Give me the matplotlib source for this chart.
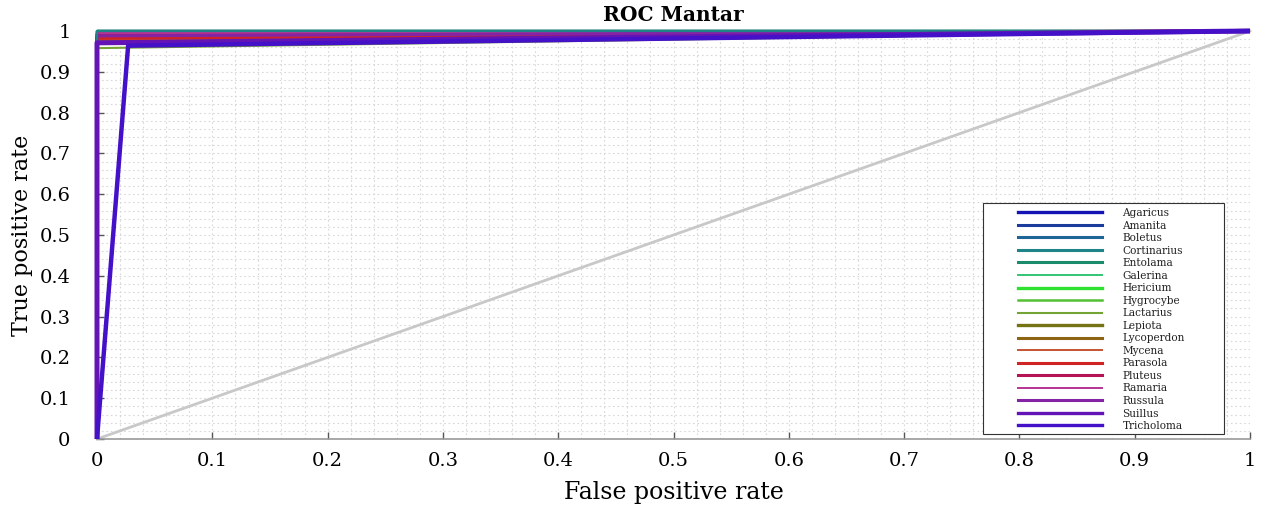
import matplotlib
matplotlib.use("Agg")
import matplotlib.pyplot as plt
from matplotlib.ticker import MultipleLocator
from matplotlib.patches import Rectangle

# Per-class operating point (false positive rate, true positive rate)
classes = ["Agaricus", "Amanita", "Boletus", "Cortinarius", "Entolama", "Galerina",
           "Hericium", "Hygrocybe", "Lactarius", "Lepiota", "Lycoperdon", "Mycena",
           "Parasola", "Pluteus", "Ramaria", "Russula", "Suillus", "Tricholoma"]
fpr = [0.0, 0.0, 0.0, 0.0, 0.0, 0.0, 0.0, 0.0, 0.0, 0.0, 0.0, 0.0,
       0.0, 0.0, 0.0, 0.0, 0.0, 0.027]
tpr = [1.0, 1.0, 1.0, 1.0, 1.0, 1.0, 1.0, 0.975, 0.958, 0.984, 0.98, 0.979,
       0.982, 0.993, 0.995, 0.988, 0.971, 0.964]
colors = ["#1414B4", "#1A3C9C", "#1E6494", "#1F8488", "#1A8C6C", "#34C474",
          "#30E030", "#54C034", "#74A434", "#747414", "#8C6414", "#C45434",
          "#D02424", "#B41454", "#B43494", "#8424A4", "#6414B4", "#4410C8"]
widths = [2.4, 2.2, 2.2, 2.2, 2.2, 1.4, 2.4, 1.8, 1.5, 2.4, 2.2, 1.4,
          2.2, 2.2, 1.4, 2.2, 3.6, 3.2]
layers = [3.0, 3.0, 3.0, 3.5, 3.0, 3.0, 3.0, 3.0, 3.0, 3.0, 3.0, 3.0,
          3.0, 3.0, 3.0, 3.0, 3.6, 3.7]

W, H = 1269, 507
fig = plt.figure(figsize=(W / 100, H / 100), dpi=100)
ax = fig.add_axes([97 / W, 1 - 439 / H, (1250 - 97) / W, (439 - 31) / H])

# chance diagonal
ax.plot([0, 1], [0, 1], color="#C8C8C8", lw=2.0, zorder=2, clip_on=False)

for name, fp, tp, c, w, z in zip(classes, fpr, tpr, colors, widths, layers):
    line, = ax.plot([0, fp, 1], [0, tp, 1], color=c, lw=(1.6 if tp >= 1 else w),
                    zorder=z, clip_on=False, solid_capstyle="butt")
    line.set_label(name)

ax.set_xlim(0, 1)
ax.set_ylim(0, 1)
ax.xaxis.set_major_locator(MultipleLocator(0.1))
ax.yaxis.set_major_locator(MultipleLocator(0.1))
ax.xaxis.set_minor_locator(MultipleLocator(0.02))
ax.yaxis.set_minor_locator(MultipleLocator(0.02))
ax.grid(which="both", color="#D8D8D8", linestyle=(0, (1.5, 2.5)), lw=0.8, zorder=0)

fmt = lambda v, p: "0" if abs(v) < 1e-9 else ("1" if abs(v - 1) < 1e-9 else f"{v:.1f}")
ax.xaxis.set_major_formatter(fmt)
ax.yaxis.set_major_formatter(fmt)

serif = "DejaVu Serif"
ax.tick_params(which="major", direction="in", length=5, width=1, color="#555555",
               labelsize=14, labelfontfamily=serif)
ax.tick_params(axis="y", which="major", pad=19)
ax.tick_params(axis="x", which="major", pad=9)
ax.tick_params(which="minor", length=0)

for s in ["top", "right"]:
    ax.spines[s].set_visible(False)
for s in ["left", "bottom"]:
    ax.spines[s].set_color("#999999")
    ax.spines[s].set_linewidth(1.2)

ax.set_xlabel("False positive rate", family=serif, fontsize=17, labelpad=8)
ax.set_ylabel("True positive rate", family=serif, fontsize=16, labelpad=5)
ax.set_title("ROC Mantar", family=serif, fontweight="bold", fontsize=14.5, pad=7)

# legend box with wide side margins
ax.add_patch(Rectangle((983 / W, 1 - 434 / H), (1224 - 983) / W, (434 - 203) / H,
                       transform=fig.transFigure, facecolor="white",
                       edgecolor="#333333", lw=0.8, zorder=4, clip_on=False))
handles_leg = []
for c, w in zip(colors, widths):
    h, = ax.plot([], [], color=c, lw=min(w, 2.4))
    handles_leg.append(h)
leg = ax.legend(handles_leg, classes, loc="upper left",
                bbox_to_anchor=(1018 / W, 1 - 208 / H),
                bbox_transform=fig.transFigure, prop={"family": serif, "size": 7.6},
                handlelength=8.0, handletextpad=1.9, labelspacing=0.24,
                borderpad=0, borderaxespad=0, frameon=False)
leg.set_zorder(5)
for t in leg.get_texts():
    t.set_color("#222222")

fig.savefig("out.png", dpi=100)
